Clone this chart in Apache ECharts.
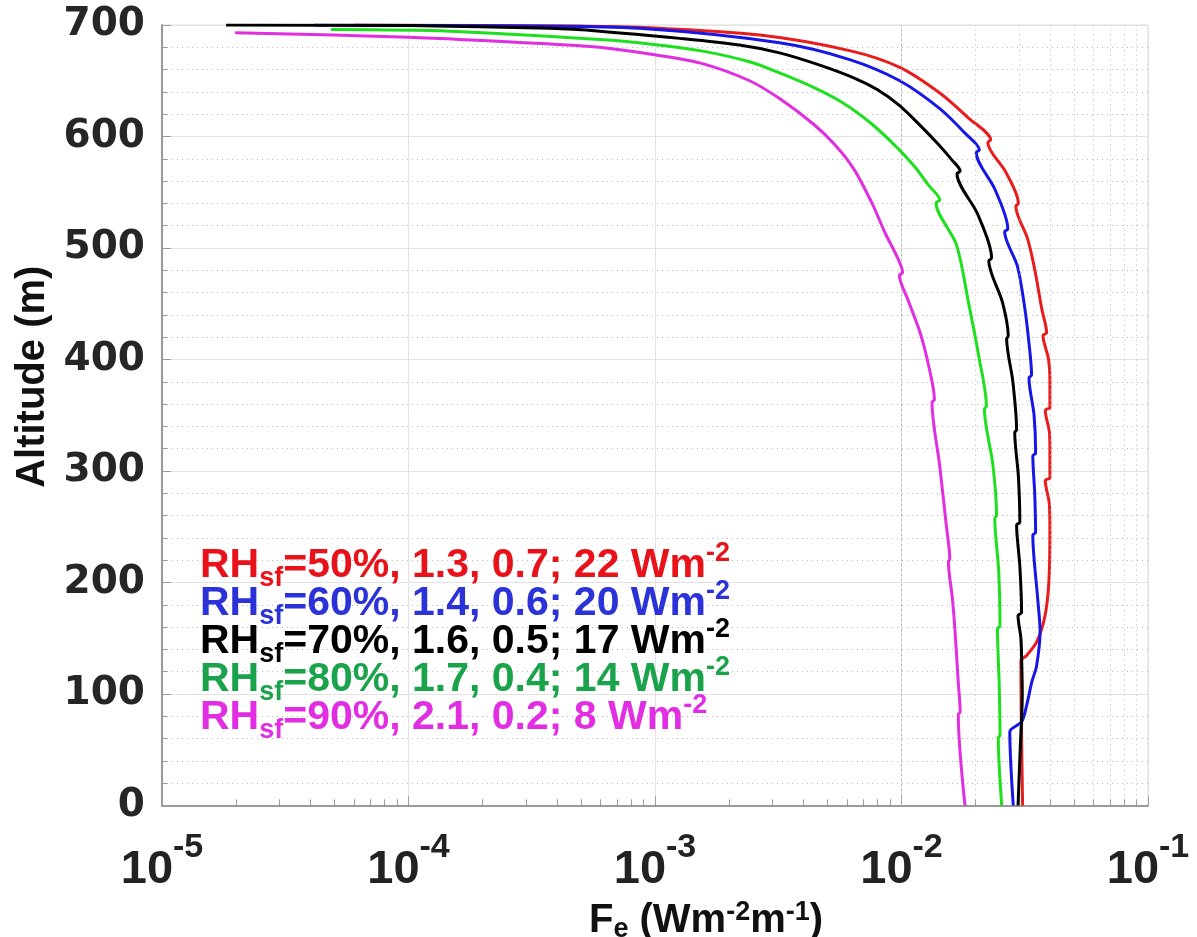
<!DOCTYPE html>
<html><head><meta charset="utf-8">
<script src="https://cdn.jsdelivr.net/npm/echarts/dist/echarts.min.js"></script>
<style>html,body{margin:0;padding:0;background:#fff}#c{width:1197px;height:937px}</style>
</head><body><div id="c"></div>
<script>
// ---- data (Fe in W m^-2 m^-1, altitude in m) ----
const fe50  = [6e-5, 5e-4, 8.65e-4, 2.66e-3, 6.16e-3, 9.84e-3, 0.0143, 0.0186, 0.0230, 0.0224, 0.0265, 0.0298, 0.0291, 0.0325, 0.0347, 0.0371, 0.0388, 0.0375, 0.0395, 0.0400, 0.0400, 0.0383, 0.0398, 0.0400, 0.0400, 0.0383, 0.0398, 0.0400, 0.0396, 0.0382, 0.0354, 0.0320, 0.0305, 0.0310];
const alt50 = [700, 699, 698, 691, 677, 662, 639, 617, 597, 594.5, 568, 540, 537.5, 508, 481, 445, 424, 421.5, 400, 380, 357, 354.5, 335, 319, 294, 291.5, 270, 246, 200, 170, 147, 134, 130, 0];

const fe60  = [4.15e-5, 3e-4, 8.65e-4, 3.2e-3, 6.16e-3, 9.84e-3, 0.0143, 0.0181, 0.0207, 0.0201, 0.0240, 0.0270, 0.0262, 0.0295, 0.0314, 0.0327, 0.0337, 0.0329, 0.0345, 0.0350, 0.0341, 0.0347, 0.0350, 0.0341, 0.0357, 0.0365, 0.0353, 0.0338, 0.0322, 0.0307, 0.0275, 0.0284];
const alt60 = [700, 699, 697, 684, 669, 650, 625, 603, 588, 585.5, 552, 517, 514.5, 484, 451, 420, 386, 383.5, 350, 316, 313.5, 280, 245, 242.5, 185, 156, 125, 111, 90, 75, 66, 0];

const fe70  = [1.82e-5, 1e-4, 3.73e-4, 5.96e-4, 1.26e-3, 2.2e-3, 3.2e-3, 4.66e-3, 6.5e-3, 8.0e-3, 9.8e-3, 0.0119, 0.0141, 0.0160, 0.0173, 0.0168, 0.0204, 0.0232, 0.0226, 0.0257, 0.0271, 0.0267, 0.0283, 0.0293, 0.0288, 0.0298, 0.0302, 0.0293, 0.0302, 0.0307, 0.0297, 0.0305, 0.0307, 0.0309, 0.0303, 0.0297];
const alt70 = [700, 699.5, 697, 694.5, 688, 682, 675, 664, 652, 642, 628, 610, 593, 579, 569, 566.5, 530, 491, 488.5, 451, 421, 418.5, 380, 337, 334.5, 295, 254, 251.5, 215, 173, 170.5, 150, 134, 100, 50, 0];

const fe80  = [4.85e-5, 1.47e-4, 5.96e-4, 9.5e-4, 1.52e-3, 2.42e-3, 3.2e-3, 4.4e-3, 5.9e-3, 7.6e-3, 9.6e-3, 0.0114, 0.0128, 0.0143, 0.0138, 0.0167, 0.0187, 0.0205, 0.0221, 0.0217, 0.0235, 0.0243, 0.0239, 0.0248, 0.0251, 0.0245, 0.0249, 0.0251, 0.0247, 0.0255];
const alt80 = [696, 694.5, 687, 683, 677, 667, 657, 644, 629, 611, 590, 572, 557, 543, 540.5, 503, 451, 405, 358, 355.5, 305, 260, 257.5, 210, 161, 158.5, 110, 63, 60.5, 0];

const fe90  = [1.98e-5, 1e-4, 3.73e-4, 5.96e-4, 9.5e-4, 1.52e-3, 2.42e-3, 3.2e-3, 4.4e-3, 5.4e-3, 6.4e-3, 7.6e-3, 8.6e-3, 9.6e-3, 0.0101, 0.0098, 0.0106, 0.0119, 0.0129, 0.0136, 0.0133, 0.0143, 0.0152, 0.0157, 0.0155, 0.0161, 0.0165, 0.0170, 0.0173, 0.0170, 0.0181];
const alt90 = [693, 689, 683, 680, 674, 666, 650, 634, 611, 592, 571, 540, 513, 492, 478, 475.5, 454, 424, 394, 364, 361.5, 304, 251, 221, 218.5, 185, 155, 110, 84, 81.5, 0];

// legend-text values
const rhPct  = ['50', '60', '70', '80', '90'];
const param1 = ['1.3', '1.4', '1.6', '1.7', '2.1'];
const param2 = ['0.7', '0.6', '0.5', '0.4', '0.2'];
const flux   = ['22', '20', '17', '14', '8'];

// axis ticks
const xMin = 1e-5, xMax = 1e-1;
const yTicks = [0, 100, 200, 300, 400, 500, 600, 700];
const minorMantissa = [2, 3, 4, 5, 6, 7, 8, 9];
const minorExp = [-5, -4, -3, -2];

// ---- styles ----
const lineColors = ['#e81c1c', '#1616e6', '#000000', '#1fe01f', '#e02ee0'];
const textColors = ['#e8121a', '#2a32d8', '#000000', '#1aa34a', '#e22ee2'];
const rowY = [566, 604, 642, 680, 718];

const minorVals = [];
minorExp.forEach(e => minorMantissa.forEach(m => minorVals.push(m * Math.pow(10, e))));

function pairs(xs, ys) { return xs.map((x, i) => [x, ys[i]]); }
const curves = [[fe50, alt50], [fe60, alt60], [fe70, alt70], [fe80, alt80], [fe90, alt90]];

const FONT = 'Liberation Sans, Arial, Helvetica, sans-serif';
const richMain = {
  m: { fontFamily: FONT, fontWeight: 'bold', fontSize: 41, lineHeight: 52 },
  s: { fontFamily: FONT, fontWeight: 'bold', fontSize: 27, lineHeight: 26, verticalAlign: 'bottom' },
  p: { fontFamily: FONT, fontWeight: 'bold', fontSize: 27, lineHeight: 26, verticalAlign: 'top' }
};

const series = curves.map((c, i) => ({
  type: 'line',
  data: pairs(c[0], c[1]),
  showSymbol: false,
  smooth: 0.3,
  lineStyle: { color: lineColors[i], width: 3 },
  z: 3 + i,
  silent: true
}));

series.unshift({
  type: 'line',
  data: [],
  z: 1,
  silent: true,
  markLine: {
    silent: true,
    symbol: ['none', 'none'],
    label: { show: false },
    animation: false,
    data: minorVals.map(v => ({ xAxis: v, lineStyle: { type: [1, 4], color: '#b8b8b8', width: 1 } }))
      .concat(minorVals.map(v => [
        { coord: [v, 0], lineStyle: { type: 'solid', color: '#9a9a9a', width: 1 } },
        { coord: [v, 5.5] }
      ]))
  }
});

const legendGraphics = rhPct.map((p, i) => ({
  type: 'text',
  x: 200,
  y: rowY[i],
  z: 50,
  style: {
    text: '{m|RH}{s|sf}{m|=' + p + '%, ' + param1[i] + ', ' + param2[i] + '; ' + flux[i] + ' Wm}{p|-2}',
    fill: textColors[i],
    verticalAlign: 'middle',
    align: 'left',
    rich: richMain
  }
}));

const chart = echarts.init(document.getElementById('c'), null, { renderer: 'canvas' });
chart.setOption({
  animation: false,
  backgroundColor: '#ffffff',
  grid: { left: 162, right: 49, top: 25, bottom: 131.5, show: true, borderColor: '#dcdcdc', borderWidth: 1, containLabel: false, outerBoundsMode: 'none' },
  xAxis: {
    type: 'log', logBase: 10, min: xMin, max: xMax,
    axisLine: { show: true, lineStyle: { color: '#9a9a9a', width: 2 } },
    axisTick: { show: true, inside: true, length: 9, lineStyle: { color: '#9a9a9a', width: 1 } },
    splitLine: { show: true, lineStyle: { color: '#e2e2e2', width: 1 } },
    axisLabel: {
      margin: 25,
      color: '#222',
      formatter: v => '{b|10}{s|' + Math.round(Math.log10(v)) + '}',
      rich: {
        b: { fontFamily: FONT, fontWeight: 'bold', fontSize: 47, lineHeight: 80, color: '#222' },
        s: { fontFamily: FONT, fontWeight: 'bold', fontSize: 34, lineHeight: 34, verticalAlign: 'top', color: '#222' }
      }
    },
    name: '{b|F}{e|e}{b| (Wm}{p|-2}{b|m}{p|-1}{b|)}',
    nameLocation: 'middle',
    nameGap: 76,
    nameTextStyle: {
      color: '#111',
      padding: [0, 0, 0, 102],
      rich: {
        b: { fontFamily: FONT, fontWeight: 'bold', fontSize: 40, lineHeight: 44, color: '#111' },
        e: { fontFamily: FONT, fontWeight: 'bold', fontSize: 27, lineHeight: 22, verticalAlign: 'bottom', color: '#111' },
        p: { fontFamily: FONT, fontWeight: 'bold', fontSize: 27, lineHeight: 22, verticalAlign: 'top', color: '#111' }
      }
    }
  },
  yAxis: {
    type: 'value', min: 0, max: 700, interval: 100,
    axisLine: { show: true, lineStyle: { color: '#9a9a9a', width: 2 } },
    axisTick: { show: true, inside: true, length: 9, lineStyle: { color: '#9a9a9a', width: 1 } },
    minorTick: { show: true, splitNumber: 5, length: 5, lineStyle: { color: '#9a9a9a', width: 1 } },
    splitLine: { show: true, lineStyle: { color: '#e2e2e2', width: 1 } },
    minorSplitLine: { show: true, lineStyle: { type: [1, 4], color: '#b8b8b8', width: 1 } },
    axisLabel: {
      margin: 17, color: '#262626',
      fontFamily: 'DejaVu Sans', fontWeight: 'bold', fontSize: 39,
      formatter: v => (yTicks.indexOf(v) >= 0 ? String(v) : '')
    },
    name: 'Altitude (m)',
    nameLocation: 'middle',
    nameRotate: 90,
    nameGap: 107,
    nameTextStyle: {
      fontFamily: FONT, fontWeight: 'bold', fontSize: 40, color: '#111',
      padding: [0, 0, 0, 77]
    }
  },
  graphic: legendGraphics,
  series: series
});
</script>
</body></html>
